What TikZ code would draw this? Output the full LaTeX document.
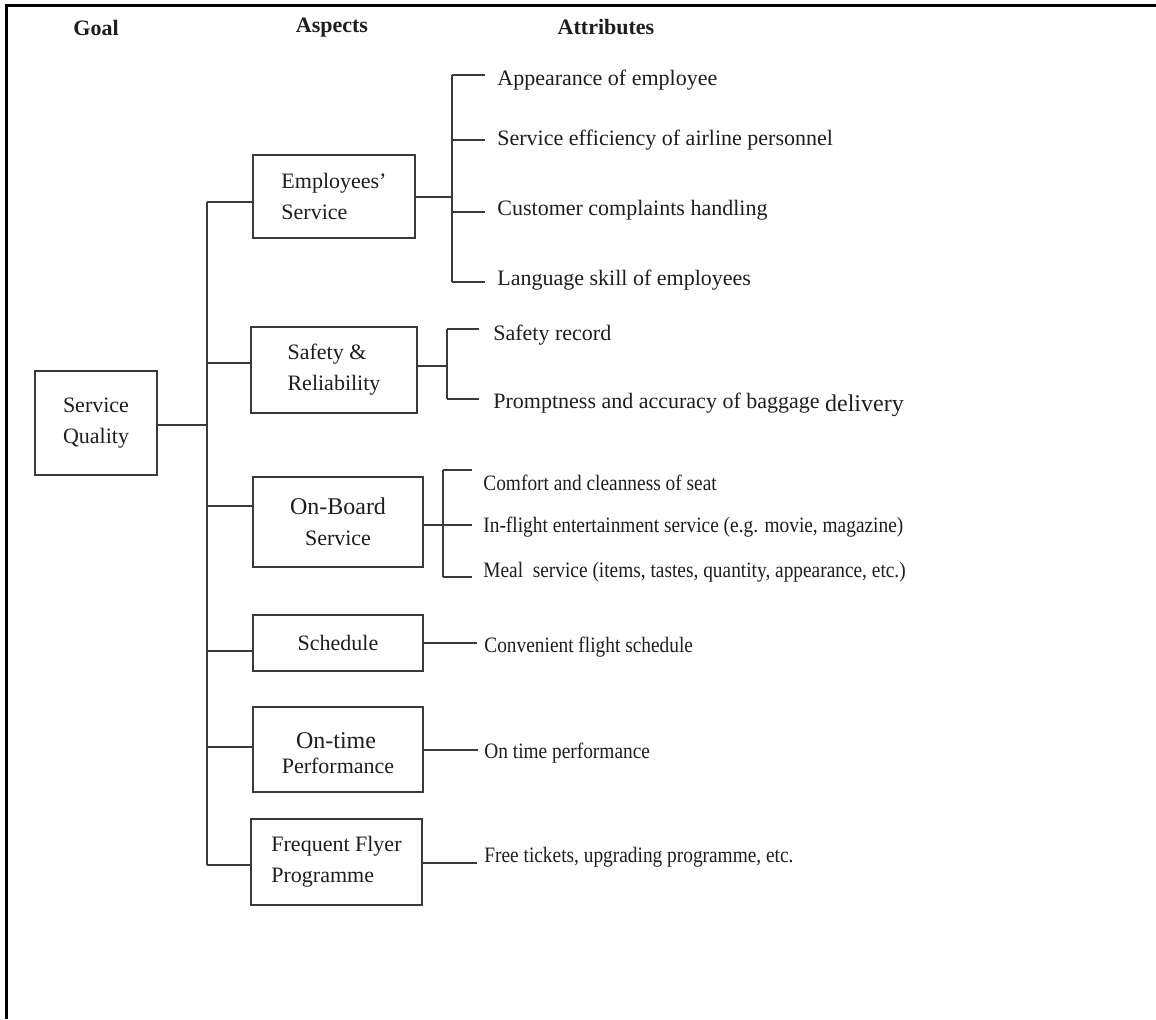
\documentclass[tikz,border=0pt]{standalone}
\usepackage{fontspec}
\setmainfont{Liberation Serif}
\newfontfamily\narrowserif[FakeStretch=0.88]{Liberation Serif}
\definecolor{linegray}{HTML}{3A3A3A}
\definecolor{ink}{HTML}{1E1E1E}
\begin{document}
\begin{tikzpicture}[x=0.5pt,y=-0.5pt,
  link/.style={draw=linegray, line width=1pt},
  aspect/.style={draw=linegray, line width=1pt, rectangle, inner sep=0pt,
    font=\fontsize{11}{15.5}\selectfont, text=ink},
  head/.style={font=\bfseries\fontsize{11}{13}\selectfont, text=ink},
  attr/.style={anchor=west, inner ysep=0pt, font=\fontsize{11}{13}\selectfont, text=ink},
  attrn/.style={attr, font=\narrowserif\fontsize{11}{13}\selectfont}
]
\useasboundingbox (0,0) rectangle (1156,1019);
\fill[white] (0,0) rectangle (1156,1019);

% outer frame (top and left edges)
\draw[line width=1.5pt, black] (6,1019) -- (6,5.5) -- (1156,5.5);

% column headings
\node[head] (hgoal) at (96,28) {Goal};
\node[head] (hasp)  at (332,28) {Aspects};
\node[head] (hattr) at (606,27) {Attributes};

% goal
\node[aspect, minimum width=61pt, minimum height=52pt, align=left] (sq) at (96,423) {Service\\Quality};

% aspects
\node[aspect, minimum width=81pt, minimum height=41.5pt, align=left] (es) at (334,196.5) {Employees’\\Service};
\node[aspect, minimum width=83pt, minimum height=43pt, align=left] (sr) at (334,370) {Safety \&\\Reliability};
\node[aspect, minimum width=85pt, minimum height=45pt, align=center] (ob) at (338,522) {{\fontsize{12}{12}\selectfont On-Board}\\Service};
\node[aspect, minimum width=85pt, minimum height=28pt] (sc) at (338,643) {Schedule};
\node[aspect, minimum width=85pt, minimum height=42.5pt, align=center] (ot) at (338,749.5) {};
\node[font=\fontsize{12}{12}\selectfont, text=ink, inner sep=0pt] (ott) at (336,741) {On-time};
\node[font=\fontsize{11}{12}\selectfont, text=ink, inner sep=0pt] (otb) at (338,766) {Performance};
\node[aspect, minimum width=85.5pt, minimum height=43pt, align=left] (ff) at (336.5,862) {Frequent Flyer\\Programme};

% trunk joining the goal to the aspects
\coordinate (kg) at (207,425);
\coordinate (k1) at (207,202);
\coordinate (k2) at (207,363);
\coordinate (k3) at (207,506);
\coordinate (k4) at (207,651);
\coordinate (k5) at (207,747);
\coordinate (k6) at (207,865);
\draw[link] (k1) -- (k6);
\draw[link] (sq.east |- kg) -- (kg);
\draw[link] (k1) -- (k1 -| es.west);
\draw[link] (k2) -- (k2 -| sr.west);
\draw[link] (k3) -- (k3 -| ob.west);
\draw[link] (k4) -- (k4 -| sc.west);
\draw[link] (k5) -- (k5 -| ot.west);
\draw[link] (k6) -- (k6 -| ff.west);

% employees' service attributes
\node[attr, inner xsep=6pt] (a1) at (485,80)  {Appearance of employee};
\node[attr, inner xsep=6pt] (a2) at (485,140) {Service efficiency of airline personnel};
\node[attr, inner xsep=6pt] (a3) at (485,210) {Customer complaints handling};
\node[attr, inner xsep=6pt] (a4) at (485,280) {Language skill of employees};
\coordinate (eb) at (452,197);
\coordinate (e1) at (452,75);
\coordinate (e2) at (452,140);
\coordinate (e3) at (452,212);
\coordinate (e4) at (452,282);
\draw[link] (eb -| es.east) -- (eb);
\draw[link] (e1) -- (e4);
\draw[link] (e1) -- (e1 -| a1.west);
\draw[link] (e2) -- (e2 -| a2.west);
\draw[link] (e3) -- (e3 -| a3.west);
\draw[link] (e4) -- (e4 -| a4.west);

% safety & reliability attributes
\node[attr, inner xsep=7pt] (b1) at (479,335) {Safety record};
\node[attr, inner xsep=7pt] (b2) at (479,405) {Promptness and accuracy of baggage \raisebox{-1.5pt}{\fontsize{12}{12}\selectfont delivery}};
\coordinate (sb) at (447,366);
\coordinate (s1) at (447,329);
\coordinate (s2) at (447,399);
\draw[link] (sb -| sr.east) -- (sb);
\draw[link] (s1) -- (s2);
\draw[link] (s1) -- (s1 -| b1.west);
\draw[link] (s2) -- (s2 -| b2.west);

% on-board service attributes
\node[attrn, inner xsep=5.5pt] (c1) at (472,483) {Comfort and cleanness of seat};
\node[attrn, inner xsep=5.5pt] (c2) at (472,527) {In-flight entertainment service (e.g. movie, magazine)};
\node[attrn, inner xsep=5.5pt] (c3) at (472,572) {Meal\ \ service (items, tastes, quantity, appearance, etc.)};
\coordinate (obk) at (443,525);
\coordinate (o1) at (443,470);
\coordinate (o2) at (443,525);
\coordinate (o3) at (443,577);
\draw[link] (obk -| ob.east) -- (obk);
\draw[link] (o1) -- (o3);
\draw[link] (o1) -- (o1 -| c1.west);
\draw[link] (o2) -- (o2 -| c2.west);
\draw[link] (o3) -- (o3 -| c3.west);

% single-attribute aspects
\node[attrn, inner xsep=3.5pt] (d1) at (477,647) {Convenient flight schedule};
\node[attrn, inner xsep=3pt]   (d2) at (478,753) {On time performance};
\node[attrn, inner xsep=3.5pt] (d3) at (477,857) {Free tickets, upgrading programme, etc.};
\coordinate (kc) at (477,643);
\coordinate (kt) at (478,750);
\coordinate (kf) at (477,863);
\draw[link] (kc -| sc.east) -- (kc -| d1.west);
\draw[link] (kt -| ot.east) -- (kt -| d2.west);
\draw[link] (kf -| ff.east) -- (kf -| d3.west);
\end{tikzpicture}
\end{document}
